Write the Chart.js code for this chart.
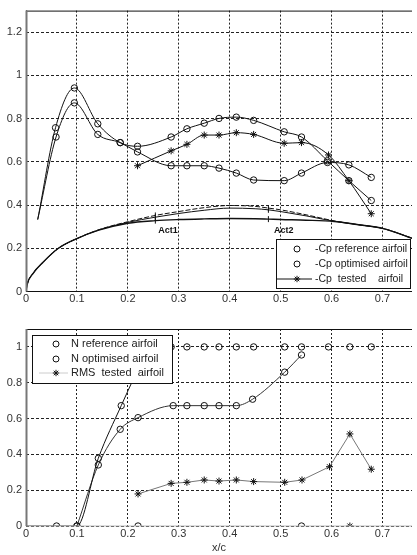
<!DOCTYPE html>
<html>
<head>
<meta charset="utf-8">
<script src="https://cdn.jsdelivr.net/npm/chart.js@4.4.0/dist/chart.umd.min.js"></script>
<style>
  html, body { margin: 0; padding: 0; background: #fff; }
  #wrap { position: relative; width: 417px; height: 555px; overflow: hidden; }
  canvas { position: absolute; left: 0; }
  #cpChart { top: 0; }
  #nChart { top: 310px; }
</style>
</head>
<body>
<div id="wrap">
  <canvas id="cpChart" width="417" height="305"></canvas>
  <canvas id="nChart" width="417" height="245"></canvas>
</div>
<script>
// axis ticks (shared x axis)
const xTickVals = [0, 0.1, 0.2, 0.3, 0.4, 0.5, 0.6, 0.7];
const xTickLabels = ["0", "0.1", "0.2", "0.3", "0.4", "0.5", "0.6", "0.7"];
const cpTickVals = [0, 0.2, 0.4, 0.6, 0.8, 1, 1.2];
const cpTickLabels = ["0", "0.2", "0.4", "0.6", "0.8", "1", "1.2"];
const nTickVals = [0, 0.2, 0.4, 0.6, 0.8, 1];
const nTickLabels = ["0", "0.2", "0.4", "0.6", "0.8", "1"];

// top plot: -Cp distributions
const cpRefX = [0.023, 0.058, 0.095, 0.141, 0.185, 0.219, 0.285, 0.316, 0.350, 0.379, 0.413, 0.447, 0.507, 0.541, 0.592, 0.634, 0.678];
const cpRefY = [0.333, 0.758, 0.942, 0.776, 0.689, 0.672, 0.715, 0.753, 0.779, 0.801, 0.807, 0.792, 0.739, 0.715, 0.605, 0.513, 0.421];
const cpOptX = [0.023, 0.059, 0.095, 0.141, 0.185, 0.219, 0.285, 0.316, 0.350, 0.379, 0.413, 0.447, 0.507, 0.541, 0.592, 0.634, 0.678];
const cpOptY = [0.333, 0.715, 0.873, 0.727, 0.689, 0.646, 0.582, 0.582, 0.582, 0.571, 0.548, 0.516, 0.513, 0.548, 0.597, 0.586, 0.528];
const cpTestX = [0.219, 0.285, 0.316, 0.350, 0.379, 0.413, 0.447, 0.507, 0.541, 0.594, 0.634, 0.678];
const cpTestY = [0.582, 0.651, 0.681, 0.724, 0.724, 0.735, 0.727, 0.686, 0.689, 0.632, 0.513, 0.360];

// airfoil shapes (upper surface) with actuator positions
const foilX = [0, 0.002, 0.014, 0.034, 0.063, 0.1, 0.143, 0.2, 0.254, 0.3, 0.35, 0.4, 0.45, 0.476, 0.5, 0.55, 0.605, 0.65, 0.702, 0.76];
const foilRefY = [0, 0.03, 0.084, 0.137, 0.199, 0.245, 0.286, 0.323, 0.352, 0.370, 0.388, 0.398, 0.394, 0.386, 0.378, 0.355, 0.327, 0.310, 0.291, 0.245];
const foilOptY = [0, 0.03, 0.084, 0.137, 0.199, 0.245, 0.285, 0.320, 0.344, 0.361, 0.376, 0.386, 0.383, 0.378, 0.370, 0.350, 0.325, 0.310, 0.291, 0.245];
const foilTestY = [0, 0.03, 0.084, 0.137, 0.199, 0.245, 0.284, 0.316, 0.328, 0.333, 0.336, 0.338, 0.337, 0.335, 0.333, 0.330, 0.324, 0.310, 0.291, 0.245];
const actX = [0.254, 0.476];
const actLabels = ["Act1", "Act2"];
const actLabelX = [0.279, 0.506];
const actLabelY = [0.283, 0.280];

const cpLegend = ["-Cp reference airfoil", "-Cp optimised airfoil", "-Cp  tested    airfoil"];

// bottom plot
const nRefX = [0, 0.06, 0.1, 0.142, 0.187, 0.24];
const nRefY = [0, 0, 0, 0.378, 0.672, 1.0];
const nRefTopX = [0.285, 0.316, 0.350, 0.379, 0.413, 0.447, 0.508, 0.541, 0.594, 0.636, 0.678];
const nRefTopY = [1, 1, 1, 1, 1, 1, 1, 1, 1, 1, 1];
const nZeroX = [0.22, 0.541];
const nZeroY = [0, 0];
const nOptX = [0.1, 0.142, 0.185, 0.22, 0.289, 0.316, 0.350, 0.379, 0.413, 0.445, 0.508, 0.541];
const nOptY = [0, 0.341, 0.54, 0.605, 0.672, 0.672, 0.672, 0.672, 0.672, 0.708, 0.859, 0.955];
const rmsX = [0.22, 0.285, 0.316, 0.350, 0.379, 0.413, 0.447, 0.508, 0.542, 0.596, 0.636, 0.678];
const rmsY = [0.179, 0.238, 0.244, 0.257, 0.251, 0.257, 0.248, 0.244, 0.257, 0.331, 0.514, 0.317];
const rmsZeroX = [0.636];
const rmsZeroY = [0];

const nLegend = ["N reference airfoil", "N optimised airfoil", "RMS  tested  airfoil"];

const FONT = "'Liberation Sans', Arial, sans-serif";

function pts(xs, ys) {
  return xs.map((x, i) => ({ x: x, y: ys[i] }));
}

function circleSet(label, xs, ys, extra) {
  return Object.assign({
    label: label,
    data: pts(xs, ys),
    showLine: true,
    borderColor: "#111",
    borderWidth: 1,
    pointStyle: "circle",
    pointRadius: 3.2,
    pointBorderColor: "#111",
    pointBackgroundColor: "rgba(0,0,0,0)",
    pointBorderWidth: 1,
    cubicInterpolationMode: "monotone",
  }, extra || {});
}

function starSet(label, xs, ys, extra) {
  return Object.assign({
    label: label,
    data: pts(xs, ys),
    showLine: true,
    borderColor: "#111",
    borderWidth: 1,
    pointStyle: "star",
    pointRadius: 3.5,
    pointBorderColor: "#111",
    pointBorderWidth: 1,
    cubicInterpolationMode: "monotone",
  }, extra || {});
}

function foilSet(ys, extra) {
  return Object.assign({
    data: pts(foilX, ys),
    showLine: true,
    borderColor: "#111",
    borderWidth: 1,
    cubicInterpolationMode: "monotone",
    pointStyle: "line",
    pointRotation: 90,
    pointBorderColor: "#111",
    pointBorderWidth: 1,
    pointRadius: (c) => (actX.indexOf(foilX[c.dataIndex]) >= 0 ? 3 : 0),
  }, extra || {});
}

function hline(ctx, x1, y1, x2, y2, color, w) {
  ctx.beginPath();
  ctx.strokeStyle = color;
  ctx.lineWidth = w;
  ctx.moveTo(x1, y1);
  ctx.lineTo(x2, y2);
  ctx.stroke();
}

// box around the plot area
const framePlugin = {
  id: "frame",
  afterDatasetsDraw(chart, args, o) {
    const { ctx, chartArea: a } = chart;
    ctx.save();
    hline(ctx, a.left, a.top + 0.5, a.right, a.top + 0.5, o.top, 1);
    hline(ctx, a.left, a.bottom, a.right, a.bottom, o.bottom, 1.2);
    hline(ctx, a.left + 0.5, a.top, a.left + 0.5, a.bottom, o.left, 2);
    ctx.restore();
  },
};

function drawMarker(ctx, type, x, y) {
  ctx.strokeStyle = "#111";
  ctx.lineWidth = 1;
  if (type === "circle") {
    ctx.beginPath();
    ctx.arc(x, y, 3, 0, Math.PI * 2);
    ctx.stroke();
  } else {
    const r = 3.2;
    ctx.beginPath();
    ctx.moveTo(x - r, y); ctx.lineTo(x + r, y);
    ctx.moveTo(x, y - r); ctx.lineTo(x, y + r);
    const d = r * 0.7;
    ctx.moveTo(x - d, y - d); ctx.lineTo(x + d, y + d);
    ctx.moveTo(x - d, y + d); ctx.lineTo(x + d, y - d);
    ctx.stroke();
  }
}

// legend drawn inside the plot area, with a box
const boxLegendPlugin = {
  id: "boxLegend",
  afterDraw(chart, args, o) {
    const { ctx, chartArea: a } = chart;
    const left = o.right ? a.right - o.dx - o.w : a.left + o.dx;
    const top = o.bottom ? a.bottom - o.dy - o.h : a.top + o.dy;
    ctx.save();
    ctx.fillStyle = "#fff";
    ctx.fillRect(left, top, o.w, o.h);
    ctx.strokeStyle = "#111";
    ctx.lineWidth = 1;
    ctx.strokeRect(left + 0.5, top + 0.5, o.w, o.h);
    ctx.font = o.fontSize + "px " + FONT;
    ctx.textBaseline = "middle";
    o.rows.forEach((row, i) => {
      const y = top + o.rowY[i];
      if (row.line) hline(ctx, left + o.lineX[0], y, left + o.lineX[1], y, row.line, 1);
      drawMarker(ctx, row.marker, left + o.markerX, y);
      ctx.fillStyle = "#222";
      ctx.fillText(row.text, left + o.textX, y);
    });
    ctx.restore();
  },
};

// Act1 / Act2 labels
const actPlugin = {
  id: "actLabels",
  afterDatasetsDraw(chart, args, o) {
    if (!o.on) return;
    const { ctx, scales } = chart;
    ctx.save();
    ctx.font = "bold 9px " + FONT;
    ctx.fillStyle = "#111";
    ctx.textAlign = "center";
    ctx.textBaseline = "middle";
    actLabels.forEach((t, i) => {
      ctx.fillText(t, scales.x.getPixelForValue(actLabelX[i]), scales.y.getPixelForValue(actLabelY[i]));
    });
    ctx.restore();
  },
};

function xScale(height, title) {
  return {
    type: "linear",
    min: 0,
    max: 0.758,
    afterBuildTicks: (s) => { s.ticks = xTickVals.map((v) => ({ value: v })); },
    afterFit: (s) => { s.height = height; },
    ticks: {
      callback: (v, i) => xTickLabels[i],
      color: "#333",
      font: { size: 11, family: FONT },
      padding: 1,
      maxRotation: 0,
      autoSkip: false,
    },
    grid: { color: "#222", lineWidth: 1, drawTicks: false },
    border: { display: false, dash: [2, 2] },
    title: title
      ? { display: true, text: title, color: "#333", font: { size: 11, family: FONT }, padding: { top: 2, bottom: 0 } }
      : { display: false },
  };
}

function yScale(max, vals, labels) {
  return {
    type: "linear",
    min: 0,
    max: max,
    afterBuildTicks: (s) => { s.ticks = vals.map((v) => ({ value: v })); },
    afterFit: (s) => { s.width = 26; },
    ticks: {
      callback: (v, i) => labels[i],
      color: "#333",
      font: { size: 11, family: FONT },
      padding: 4,
    },
    grid: { color: "#222", lineWidth: 1, drawTicks: false },
    border: { display: false, dash: [3, 2] },
  };
}

Chart.register(framePlugin, boxLegendPlugin, actPlugin);

new Chart(document.getElementById("cpChart"), {
  type: "scatter",
  data: {
    datasets: [
      circleSet(cpLegend[0], cpRefX, cpRefY, { pointRadius: (c) => (c.dataIndex === 0 ? 0 : 3.2) }),
      circleSet(cpLegend[1], cpOptX, cpOptY, { pointRadius: (c) => (c.dataIndex === 0 ? 0 : 3.2) }),
      starSet(cpLegend[2], cpTestX, cpTestY),
      foilSet(foilRefY, { borderDash: [5, 2] }),
      foilSet(foilOptY),
      foilSet(foilTestY, { borderWidth: 1.4 }),
    ],
  },
  options: {
    responsive: false,
    animation: false,
    layout: { padding: { top: 9, right: 0, left: 0, bottom: 0 } },
    scales: {
      x: xScale(13.5),
      y: yScale(1.3, cpTickVals, cpTickLabels),
    },
    plugins: {
      legend: { display: false },
      tooltip: { enabled: false },
      frame: { top: "#111", bottom: "#111", left: "#777" },
      actLabels: { on: true },
      boxLegend: {
        right: true, bottom: true, dx: 2, dy: 3.5, w: 134, h: 49, fontSize: 10.5,
        rowY: [10, 25, 40], markerX: 21, lineX: [1, 36], textX: 39,
        rows: [
          { text: cpLegend[0], marker: "circle" },
          { text: cpLegend[1], marker: "circle" },
          { text: cpLegend[2], marker: "star", line: "#111" },
        ],
      },
    },
  },
});

new Chart(document.getElementById("nChart"), {
  type: "scatter",
  data: {
    datasets: [
      circleSet(nLegend[0], nRefX, nRefY, { pointRadius: (c) => (c.dataIndex === 0 ? 0 : 3.2) }),
      circleSet(nLegend[0], nRefTopX, nRefTopY, { showLine: false }),
      circleSet(nLegend[0], nZeroX, nZeroY, { showLine: false }),
      circleSet(nLegend[1], nOptX, nOptY, { borderColor: "#333" }),
      starSet(nLegend[2], rmsX, rmsY, { borderColor: "#777", cubicInterpolationMode: "default" }),
      starSet(nLegend[2], rmsZeroX, rmsZeroY, { showLine: false }),
    ],
  },
  options: {
    responsive: false,
    animation: false,
    layout: { padding: { top: 19, right: 0, left: 0, bottom: 0 } },
    scales: {
      x: xScale(29, "x/c"),
      y: yScale(1.1, nTickVals, nTickLabels),
    },
    plugins: {
      legend: { display: false },
      tooltip: { enabled: false },
      frame: { top: "#111", bottom: "#bbb", left: "#777" },
      actLabels: { on: false },
      boxLegend: {
        right: false, bottom: false, dx: 6, dy: 6, w: 140, h: 48, fontSize: 11,
        rowY: [9, 24, 38], markerX: 24, lineX: [7, 36], textX: 39,
        rows: [
          { text: nLegend[0], marker: "circle" },
          { text: nLegend[1], marker: "circle" },
          { text: nLegend[2], marker: "star", line: "#ccc" },
        ],
      },
    },
  },
});
</script>
</body>
</html>
